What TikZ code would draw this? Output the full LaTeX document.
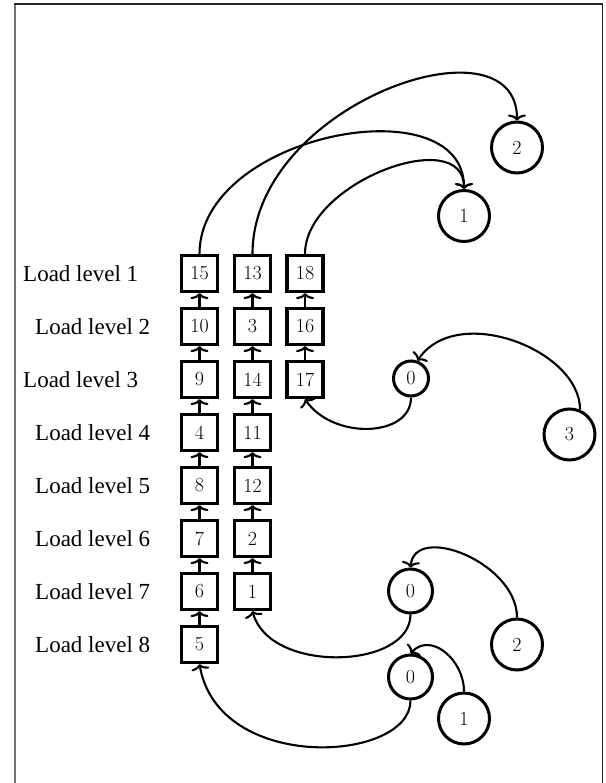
\documentclass[tikz,border=0pt]{standalone}
\usepackage{fontspec}
\newfontfamily\lblfont{Liberation Serif}
\usetikzlibrary{arrows.meta}
\newcommand\nnumfont{\fontsize{20}{20}\selectfont}
\begin{document}
\begin{tikzpicture}[x=1pt,y=-1pt,
  box/.style={draw, line width=3.2pt, minimum width=36pt, minimum height=36pt, inner sep=0pt, font=\nnumfont},
  bigc/.style={draw, circle, line width=3pt, minimum size=51pt, inner sep=0pt, font=\nnumfont},
  zc/.style={draw, circle, line width=3pt, minimum size=44pt, inner sep=0pt, font=\nnumfont},
  lbl/.style={anchor=base west, inner sep=0pt, font=\lblfont\fontsize{23}{23}\selectfont},
  arr/.style={line width=2.1pt, -{To[length=6pt,width=18pt]}},
  frameA/.style={draw=black!55, line width=2pt},
  frameB/.style={draw=black!85, line width=1.5pt}
]
\useasboundingbox (0,0) rectangle (605,783);
\draw[frameA] (15,3) -- (15,783);
\draw[frameB] (14,4) -- (602.5,4) -- (602.5,783);

% labels
\node[lbl] (l1) at (23,281.5) {Load level 1};
\node[lbl] (l2) at (35,334.5) {Load level 2};
\node[lbl] (l3) at (23,387.5) {Load level 3};
\node[lbl] (l4) at (35,440.5) {Load level 4};
\node[lbl] (l5) at (35,493.5) {Load level 5};
\node[lbl] (l6) at (35,546.5) {Load level 6};
\node[lbl] (l7) at (35,599.5) {Load level 7};
\node[lbl] (l8) at (35,652.5) {Load level 8};

% column 1
\node[box] (a1) at (199.5,273.5) {15};
\node[box] (a2) at (199.5,326.5) {10};
\node[box] (a3) at (199.5,379.5) {9};
\node[box] (a4) at (199.5,432.5) {4};
\node[box] (a5) at (199.5,485.5) {8};
\node[box] (a6) at (199.5,538.5) {7};
\node[box] (a7) at (199.5,591.5) {6};
\node[box] (a8) at (199.5,644.5) {5};
% column 2
\node[box] (b1) at (252.5,273.5) {13};
\node[box] (b2) at (252.5,326.5) {3};
\node[box] (b3) at (252.5,379.5) {14};
\node[box] (b4) at (252.5,432.5) {11};
\node[box] (b5) at (252.5,485.5) {12};
\node[box] (b6) at (252.5,538.5) {2};
\node[box] (b7) at (252.5,591.5) {1};
% column 3
\node[box] (c1) at (305,273.5) {18};
\node[box] (c2) at (305,326.5) {16};
\node[box] (c3) at (305,379.5) {17};

% circles
\node[bigc] (k2) at (517,147.5) {2};
\node[bigc] (k1) at (464,216) {1};
\node[zc, minimum size=35pt] (z3) at (411,378.5) {0};
\node[bigc] (k3) at (569.5,434.5) {3};
\node[zc] (za) at (410.5,591) {0};
\node[bigc] (kb2) at (517,644.5) {2};
\node[zc] (zb) at (410.5,677) {0};
\node[bigc] (kb1) at (464,718.5) {1};

% chains
\foreach \u/\v in {a8/a7,a7/a6,a6/a5,a5/a4,a4/a3,a3/a2,a2/a1,
                   b7/b6,b6/b5,b5/b4,b4/b3,b3/b2,b2/b1,
                   c3/c2,c2/c1}
  \draw[arr] (\u) -- (\v);

% curves
\draw[arr] (a1.north) .. controls +(0,-120) and +(0,-105) .. (k1.north);
\draw[arr] (b1.north) .. controls +(0,-150) and +(0,-108) .. (k2.north);
\draw[arr] (c1.north) .. controls +(0,-72) and +(0,-65) .. (k1.north);
\draw[arr] (k3.67) .. controls +(0,-60) and +(39,-58) .. (z3.70);
\draw[arr] (z3.south) .. controls +(0,40) and +(28,41) .. (c3.south);
\draw[arr] (kb2.north) .. controls +(0,-55) and +(4,-45) .. (za.north);
\draw[arr] (za.south) .. controls +(0,55) and +(17,63) .. (b7.south);
\draw[arr] (kb1.north) .. controls +(0,-32) and +(20,-22) .. (zb.north);
\draw[arr] (zb.south) .. controls +(0,62) and +(19,110) .. (a8.south);
\end{tikzpicture}
\end{document}
